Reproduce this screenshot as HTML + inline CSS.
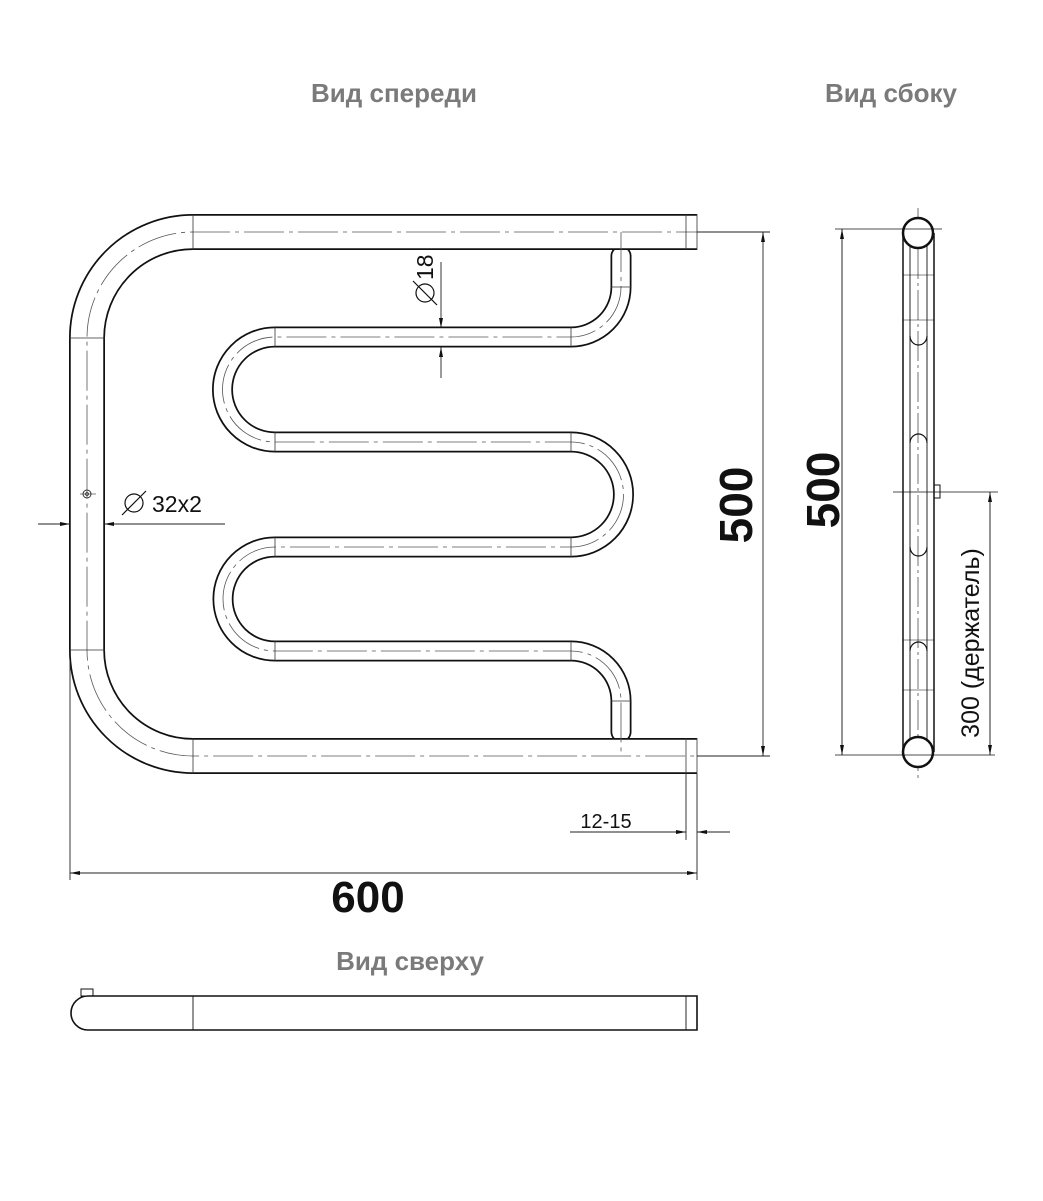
<!DOCTYPE html>
<html><head><meta charset="utf-8"><style>
html,body{margin:0;padding:0;background:#fff;}
svg{display:block;}
.t{font-family:"Liberation Sans",sans-serif;font-weight:bold;fill:#7a7a7a;font-size:26px;}
.d{font-family:"Liberation Sans",sans-serif;fill:#111;}
</style></head><body>
<svg width="1043" height="1201" viewBox="0 0 1043 1201" xmlns="http://www.w3.org/2000/svg">
<defs>
<marker id="a" viewBox="0 0 10 10" refX="10" refY="5" markerWidth="10" markerHeight="10" orient="auto-start-reverse" markerUnits="userSpaceOnUse"><path d="M0,3 L10,5 L0,7 z" fill="#111"/></marker>
</defs>
<text class="t" x="394" y="102" text-anchor="middle">Вид спереди</text>
<text class="t" x="891" y="102" text-anchor="middle">Вид сбоку</text>
<text class="t" x="410" y="970" text-anchor="middle">Вид сверху</text>

<!-- serpentine -->
<path d="M621 256 V287 A50 50 0 0 1 571 337 H275 A52.5 52.5 0 0 0 275 442 H571 A52.5 52.5 0 0 1 571 547 H275 A52 52 0 0 0 275 651 H571 A50 50 0 0 1 621 701 V732" fill="none" stroke="#111" stroke-width="21" stroke-linecap="round"/>
<path d="M621 256 V287 A50 50 0 0 1 571 337 H275 A52.5 52.5 0 0 0 275 442 H571 A52.5 52.5 0 0 1 571 547 H275 A52 52 0 0 0 275 651 H571 A50 50 0 0 1 621 701 V732" fill="none" stroke="#fff" stroke-width="17.5" stroke-linecap="round"/>
<!-- big tube -->
<path d="M697 232 H193 A106 106 0 0 0 87 338 V650 A106 106 0 0 0 193 756 H697" fill="none" stroke="#111" stroke-width="36"/>
<path d="M697 232 H193 A106 106 0 0 0 87 338 V650 A106 106 0 0 0 193 756 H697" fill="none" stroke="#fff" stroke-width="32.5"/>
<!-- centerlines -->
<g stroke="#555" stroke-width="0.8" fill="none" stroke-dasharray="40,5,4,5">
<path d="M770 232 H193 A106 106 0 0 0 87 338 V650 A106 106 0 0 0 193 756 H770"/>
<path d="M621 232 V287 A50 50 0 0 1 571 337 H275 A52.5 52.5 0 0 0 275 442 H571 A52.5 52.5 0 0 1 571 547 H275 A52 52 0 0 0 275 651 H571 A50 50 0 0 1 621 701 V756"/>
</g>
<!-- seam lines -->
<g stroke="#333" stroke-width="0.8">
<line x1="193" y1="214" x2="193" y2="250"/><line x1="193" y1="738" x2="193" y2="774"/>
<line x1="69" y1="338" x2="105" y2="338"/><line x1="69" y1="650" x2="105" y2="650"/>
<line x1="275" y1="327" x2="275" y2="347"/><line x1="275" y1="432" x2="275" y2="452"/>
<line x1="275" y1="537" x2="275" y2="557"/><line x1="275" y1="641" x2="275" y2="661"/>
<line x1="571" y1="327" x2="571" y2="347"/><line x1="571" y1="432" x2="571" y2="452"/>
<line x1="571" y1="537" x2="571" y2="557"/><line x1="571" y1="641" x2="571" y2="661"/>
<line x1="611" y1="287" x2="631" y2="287"/><line x1="611" y1="701" x2="631" y2="701"/>
<line x1="686" y1="214" x2="686" y2="250"/><line x1="686" y1="738" x2="686" y2="774"/>
<line x1="697" y1="214" x2="697" y2="250"/><line x1="697" y1="738" x2="697" y2="774"/>
</g>
<circle cx="87" cy="494" r="4" fill="none" stroke="#333" stroke-width="1"/><circle cx="87" cy="494" r="1.5" fill="none" stroke="#333" stroke-width="0.8"/>
<line x1="80" y1="494" x2="96" y2="494" stroke="#333" stroke-width="0.6"/>

<!-- dims front -->
<g stroke="#222" stroke-width="0.9" fill="none">
<line x1="697" y1="232" x2="770" y2="232"/><line x1="697" y1="756" x2="770" y2="756"/>
<line x1="763" y1="232" x2="763" y2="756" marker-start="url(#a)" marker-end="url(#a)"/>
<line x1="70" y1="660" x2="70" y2="880"/><line x1="697" y1="774" x2="697" y2="880"/>
<line x1="686" y1="774" x2="686" y2="840"/>
<line x1="70" y1="873" x2="697" y2="873" marker-start="url(#a)" marker-end="url(#a)"/>
<line x1="570" y1="832" x2="686" y2="832" marker-end="url(#a)"/>
<line x1="730" y1="832" x2="697" y2="832" marker-end="url(#a)"/>
<line x1="38" y1="524" x2="70" y2="524" marker-end="url(#a)"/>
<line x1="225" y1="524" x2="104" y2="524" marker-end="url(#a)"/>
<line x1="441" y1="262" x2="441" y2="328" marker-end="url(#a)"/>
<line x1="441" y1="378" x2="441" y2="347" marker-end="url(#a)"/>
</g>
<text class="d" x="368" y="912" text-anchor="middle" font-size="44" font-weight="bold">600</text>
<text class="d" x="0" y="0" font-size="46" font-weight="bold" text-anchor="middle" transform="translate(752,505) rotate(-90)">500</text>
<text class="d" x="606" y="828" font-size="20" text-anchor="middle">12-15</text>
<text class="d" x="152" y="512" font-size="23">32x2</text>
<circle cx="134" cy="503" r="9" fill="none" stroke="#111" stroke-width="1.2"/><line x1="122" y1="515" x2="146" y2="491" stroke="#111" stroke-width="1.2"/>
<g transform="translate(433,290) rotate(-90)">
<text class="d" x="10" y="0" font-size="23">18</text>
<circle cx="-3" cy="-8" r="9" fill="none" stroke="#111" stroke-width="1.2"/><line x1="-15" y1="4" x2="9" y2="-20" stroke="#111" stroke-width="1.2"/>
</g>

<!-- side view -->
<g stroke="#111" fill="none">
<line x1="903" y1="233" x2="903" y2="752" stroke-width="1.5"/>
<line x1="934" y1="233" x2="934" y2="752" stroke-width="1.5"/>
<line x1="910" y1="240" x2="910" y2="745" stroke-width="0.9"/>
<line x1="927" y1="240" x2="927" y2="745" stroke-width="0.9"/>
<line x1="918" y1="208" x2="918" y2="778" stroke-width="0.6" stroke-dasharray="30,4,3,4"/>
<path d="M910 336 A8.5 9 0 0 0 927 336" stroke-width="1.2"/>
<path d="M910 443 A8.5 9 0 0 1 927 443 M910 547 A8.5 9 0 0 0 927 547" stroke-width="1.2"/>
<path d="M910 651 A8.5 9 0 0 1 927 651" stroke-width="1.2"/>
<line x1="903" y1="275" x2="934" y2="275" stroke-width="0.5"/>
<line x1="903" y1="320" x2="934" y2="320" stroke-width="0.5"/>
<line x1="903" y1="640" x2="934" y2="640" stroke-width="0.5"/>
<line x1="903" y1="690" x2="934" y2="690" stroke-width="0.5"/>
<circle cx="918" cy="233" r="15" fill="#fff" stroke-width="2.5"/>
<circle cx="918" cy="752" r="15" fill="#fff" stroke-width="2.5"/>
<line x1="835" y1="229" x2="942" y2="229" stroke-width="0.8"/>
<line x1="835" y1="755" x2="995" y2="755" stroke-width="0.8"/>
<line x1="842" y1="229" x2="842" y2="755" stroke-width="0.9" marker-start="url(#a)" marker-end="url(#a)"/>
<rect x="934" y="485" width="6" height="13" stroke-width="1"/>
<line x1="893" y1="492" x2="998" y2="492" stroke-width="0.8"/>
<line x1="990" y1="492" x2="990" y2="755" stroke-width="0.9" marker-start="url(#a)" marker-end="url(#a)"/>
</g>
<text class="d" x="0" y="0" font-size="46" font-weight="bold" text-anchor="middle" transform="translate(839,490) rotate(-90)">500</text>
<text class="d" x="0" y="0" font-size="25" text-anchor="middle" transform="translate(979,643) rotate(-90)">300 (держатель)</text>

<!-- top view -->
<g stroke="#111" fill="none">
<path d="M697 996 H88 A17 17 0 0 0 88 1030 H697 Z" stroke-width="1.6"/>
<line x1="193" y1="996" x2="193" y2="1030" stroke-width="0.9"/>
<line x1="686" y1="996" x2="686" y2="1030" stroke-width="0.9"/>
<rect x="81" y="989" width="12" height="7" stroke-width="1"/>
</g>
</svg>
</body></html>
